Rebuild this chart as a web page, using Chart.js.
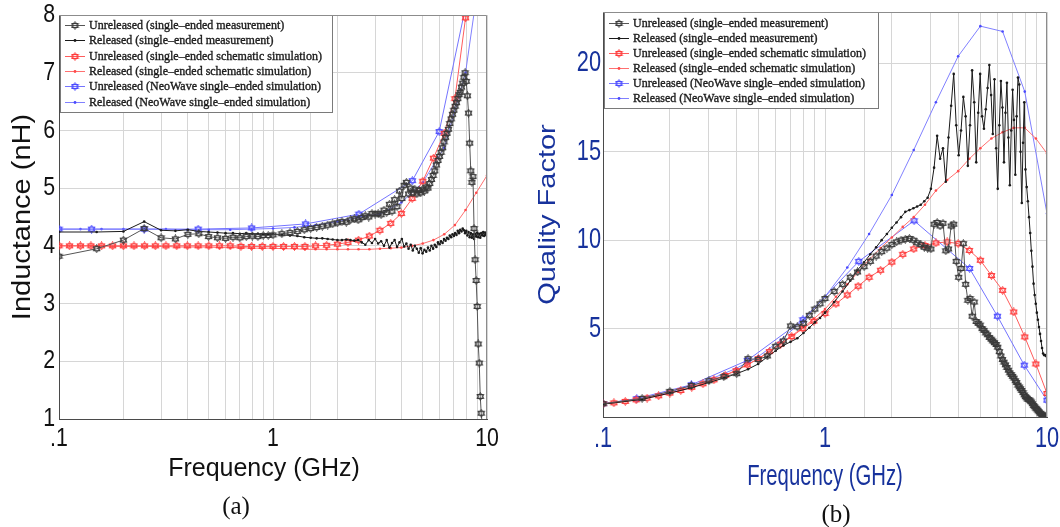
<!DOCTYPE html>
<html>
<head>
<meta charset="utf-8">
<script src="https://cdn.jsdelivr.net/npm/chart.js@4.4.0/dist/chart.umd.min.js"></script>
<style>
  html, body { margin: 0; background: #fff; }
  #wrap { position: relative; width: 1060px; height: 527px; overflow: hidden; }
  #indChart { position: absolute; left: 0; top: 0; }
  #qChart { position: absolute; left: 510px; top: 0; }
  .cap { position: absolute; font: 25px 'Liberation Serif', serif; color: #111; transform: translate(-50%, -50%); }
</style>
</head>
<body>
<div id="wrap">
  <canvas id="indChart" width="500" height="527"></canvas>
  <canvas id="qChart" width="550" height="527"></canvas>
  <div class="cap" style="left:236px; top:506px;">(a)</div>
  <div class="cap" style="left:836px; top:514px;">(b)</div>
</div>
<script>
// ---- data ----
const seriesLabels = [
  'Unreleased (single\u2013ended measurement)',
  'Released (single\u2013ended measurement)',
  'Unreleased (single\u2013ended schematic simulation)',
  'Released (single\u2013ended schematic simulation)',
  'Unreleased (NeoWave single\u2013ended simulation)',
  'Released (NeoWave single\u2013ended simulation)'
];

const freqTickValues = [0.1, 1, 10];
const freqTickLabels = ['.1', '1', '10'];

// measured sweep (GHz)
const measFreq = [
  0.1, 0.15, 0.2, 0.25, 0.3, 0.35, 0.4, 0.45, 0.5, 0.55, 0.6, 0.65, 0.7, 0.75, 0.8, 0.85, 0.9, 0.95, 1.0,
  1.1, 1.2, 1.3, 1.4, 1.5, 1.6, 1.7, 1.8, 1.9, 2.0,
  2.1, 2.2, 2.3, 2.4, 2.5, 2.6, 2.7, 2.8, 2.9, 3.0,
  3.1, 3.2, 3.3, 3.4, 3.5, 3.6, 3.7, 3.8, 3.9, 4.0,
  4.1, 4.2, 4.3, 4.4, 4.5, 4.6, 4.7, 4.8, 4.9, 5.0,
  5.1, 5.2, 5.3, 5.4, 5.5, 5.6, 5.7, 5.8, 5.9, 6.0,
  6.1, 6.2, 6.3, 6.4, 6.5, 6.6, 6.7, 6.8, 6.9, 7.0,
  7.1, 7.2, 7.3, 7.4, 7.5, 7.6, 7.7, 7.8, 7.9, 8.0,
  8.1, 8.2, 8.3, 8.4, 8.5, 8.6, 8.7, 8.8, 8.9, 9.0,
  9.1, 9.2, 9.3, 9.4, 9.5, 9.6, 9.7, 9.8, 9.9, 10.0
];
// simulation sweeps (GHz)
const sweep20 = [
  0.1, 0.112, 0.126, 0.141, 0.158, 0.178, 0.2, 0.224, 0.251, 0.282,
  0.316, 0.355, 0.398, 0.447, 0.501, 0.562, 0.631, 0.708, 0.794, 0.891,
  1.0, 1.12, 1.26, 1.41, 1.58, 1.78, 2.0, 2.24, 2.51, 2.82,
  3.16, 3.55, 3.98, 4.47, 5.01, 5.62, 6.31, 7.08, 7.94, 8.91, 10
];
const sweep10 = [
  0.1, 0.126, 0.158, 0.2, 0.251, 0.316, 0.398, 0.501, 0.631, 0.794,
  1.0, 1.26, 1.58, 2.0, 2.51, 3.16, 3.98, 5.01, 6.31, 7.94, 10
];
const neoFreq = [0.1, 0.142, 0.25, 0.447, 0.795, 1.42, 2.52, 4.48, 5.98, 7.9, 10];

// inductance (nH)
const indUnrelMeas = [
  3.82, 3.95, 4.10, 4.30, 4.14, 4.12, 4.20, 4.21, 4.16, 4.14, 4.13, 4.15, 4.14, 4.16, 4.17, 4.16, 4.18, 4.18, 4.19,
  4.21, 4.23, 4.25, 4.28, 4.30, 4.32, 4.34, 4.36, 4.38, 4.40,
  4.42, 4.41, 4.45, 4.47, 4.45, 4.49, 4.52, 4.50, 4.56, 4.55,
  4.56, 4.54, 4.62, 4.58, 4.72, 4.60, 4.80, 4.68, 4.95, 4.82,
  5.05, 5.10, 4.90, 5.00, 4.92, 4.98, 4.90, 4.96, 4.92, 4.98,
  4.95, 5.02, 5.00, 5.08, 5.15, 5.22, 5.30, 5.40, 5.48, 5.55,
  5.62, 5.70, 5.80, 5.88, 5.95, 6.02, 6.12, 6.20, 6.28, 6.35,
  6.42, 6.48, 6.55, 6.62, 6.66, 6.75, 6.82, 6.92, 7.00, 6.85,
  6.60, 6.30, 5.78, 5.30, 5.10, 5.20, 4.30, 3.76, 3.40, 2.95,
  2.30, 1.97, 1.39, 1.10, 0.90, 0.80, 0.70, 0.60, 0.50, 0.40
];
const indRelMeas = [
  4.24, 4.24, 4.25, 4.42, 4.27, 4.26, 4.28, 4.25, 4.24, 4.23, 4.22, 4.22, 4.21, 4.22, 4.21, 4.21, 4.20, 4.20, 4.20,
  4.19, 4.18, 4.17, 4.15, 4.14, 4.13, 4.13, 4.12, 4.11, 4.10,
  4.10, 4.11, 4.10, 4.09, 4.10, 4.06, 4.02, 4.10, 4.05, 4.12,
  4.04, 4.08, 4.00, 4.10, 3.97, 4.05, 4.10, 3.98, 4.06, 4.12,
  3.99, 4.04, 3.95, 4.02, 3.92, 4.00, 3.95, 3.88, 3.96, 3.87,
  3.93, 3.90, 3.97, 3.92, 4.00, 3.95, 4.02, 3.98, 4.06, 4.03,
  4.08, 4.05, 4.12, 4.09, 4.14, 4.12, 4.18, 4.15, 4.20, 4.17,
  4.22, 4.19, 4.26, 4.22, 4.28, 4.25, 4.30, 4.27, 4.22, 4.26,
  4.18, 4.24, 4.15, 4.22, 4.14, 4.20, 4.12, 4.21, 4.16, 4.23,
  4.15, 4.21, 4.14, 4.22, 4.18, 4.24, 4.17, 4.23, 4.19, 4.21
];
const indUnrelSchem = [
  4.00, 4.00, 4.00, 4.00, 4.00, 4.00, 4.00, 4.00, 4.00, 4.00,
  4.00, 4.00, 4.00, 4.00, 4.00, 4.00, 4.00, 3.99, 3.99, 3.99,
  3.99, 3.99, 3.99, 3.99, 4.00, 4.01, 4.03, 4.06, 4.10, 4.17,
  4.27, 4.39, 4.56, 4.82, 5.12, 5.52, 5.95, 6.55, 7.95, 11.5, 20
];
const indRelSchem = [
  4.00, 4.00, 4.00, 4.00, 4.00, 3.99, 3.99, 3.99, 3.99, 3.99,
  3.99, 3.98, 3.98, 3.98, 3.98, 3.97, 3.97, 3.97, 3.96, 3.96,
  3.96, 3.95, 3.95, 3.94, 3.94, 3.94, 3.94, 3.94, 3.94, 3.94,
  3.95, 3.96, 3.97, 4.00, 4.04, 4.10, 4.20, 4.36, 4.62, 4.92, 5.22
];
const indUnrelNeo = [4.29, 4.29, 4.29, 4.29, 4.31, 4.38, 4.55, 5.13, 5.98, 8.1, 20];
const indRelNeo = [
  4.29, 4.29, 4.29, 4.29, 4.29, 4.29, 4.28, 4.28, 4.28, 4.29,
  4.30, 4.32, 4.36, 4.42, 4.50, 4.55, 4.75, 5.10, 5.70, 7.00, 9.60
];

// quality factor
const qUnrelMeas = [
  0.75, 1.05, 1.45, 1.78, 2.05, 2.28, 2.45, 3.30, 3.25, 3.45, 4.00, 4.30, 5.15, 5.10, 5.30, 5.75, 6.10, 6.40, 6.70,
  7.10, 7.50, 7.90, 8.20, 8.50, 8.80, 9.10, 9.35, 9.55, 9.75,
  9.90, 10.00, 10.05, 10.10, 10.00, 9.85, 9.75, 9.60, 9.55, 9.50,
  10.90, 11.00, 10.80, 10.95, 9.40, 9.50, 10.80, 10.90, 8.80, 7.90,
  8.40, 9.80, 7.50, 6.60, 6.70, 5.70, 6.50, 5.40, 5.30, 5.20,
  5.00, 4.90, 4.75, 4.65, 4.50, 4.40, 4.30, 4.20, 4.10, 3.95,
  3.70, 3.45, 3.25, 3.10, 2.95, 2.80, 2.65, 2.50, 2.40, 2.30,
  2.20, 2.05, 1.95, 1.80, 1.70, 1.60, 1.50, 1.38, 1.25, 1.15,
  1.08, 1.00, 0.98, 0.92, 0.85, 0.75, 0.65, 0.58, 0.50, 0.45,
  0.38, 0.30, 0.22, 0.18, 0.12, 0.08, 0.05, 0.03, 0.01, 0.00
];
const qRelMeas = [
  0.72, 1.00, 1.35, 1.65, 1.95, 2.20, 2.45, 2.70, 3.00, 3.40, 3.75, 4.05, 4.25, 4.45, 4.75, 5.05, 5.35, 5.60, 5.90,
  6.50, 7.10, 7.70, 8.30, 8.75, 9.20, 9.60, 10.00, 10.35, 10.70,
  11.00, 11.30, 11.60, 11.70, 11.80, 11.90, 12.00, 12.20, 12.40, 12.90,
  14.10, 15.90, 14.60, 15.20, 13.30, 15.80, 17.60, 19.40, 16.50, 14.80,
  16.20, 18.10, 17.00, 14.20, 16.50, 19.60, 17.80, 14.40, 17.20, 19.40,
  17.00, 16.30, 17.40, 18.60, 19.90, 18.20, 16.00, 19.10, 15.20, 12.90,
  16.50, 19.00, 17.50, 14.40, 17.20, 18.90, 15.80, 13.10, 16.20, 18.50,
  16.80, 13.70, 17.00, 19.20, 18.80, 15.00, 12.10, 15.50, 17.80, 14.00,
  13.00, 12.20, 11.30, 10.40, 9.40, 8.50, 7.54, 6.90, 6.40, 5.90,
  5.50, 5.09, 4.70, 4.30, 3.90, 3.59, 3.50, 3.50, 3.45, 3.40
];
const qUnrelSchem = [
  0.75, 0.80, 0.88, 0.97, 1.07, 1.20, 1.35, 1.50, 1.68, 1.88,
  2.10, 2.35, 2.62, 2.95, 3.30, 3.70, 4.12, 4.55, 5.00, 5.42,
  5.85, 6.40, 6.90, 7.40, 7.90, 8.30, 8.76, 9.20, 9.50, 9.70,
  9.84, 9.90, 9.80, 9.42, 8.86, 8.00, 7.16, 5.94, 4.53, 3.00, 1.33
];
const qRelSchem = [
  0.75, 0.82, 0.90, 0.99, 1.10, 1.22, 1.36, 1.52, 1.70, 1.90,
  2.12, 2.37, 2.65, 2.96, 3.30, 3.70, 4.15, 4.60, 5.05, 5.55,
  6.10, 6.80, 7.50, 8.20, 8.90, 9.55, 10.15, 10.75, 11.30, 12.00,
  12.80, 13.40, 13.90, 14.60, 15.20, 15.75, 16.10, 16.35, 16.35, 15.75, 14.90
];
const qUnrelNeo = [0.75, 1.04, 1.82, 3.20, 5.50, 8.80, 11.10, 8.40, 5.70, 2.93, 0.95];
const qRelNeo = [
  0.75, 0.92, 1.12, 1.40, 1.78, 2.22, 2.75, 3.42, 4.35, 5.45,
  6.80, 8.45, 10.35, 12.55, 15.10, 17.80, 20.40, 22.10, 21.80, 18.40, 11.50
];

// ---- marker helpers ----
function hexagram(color) {
  const c = document.createElement('canvas');
  c.width = c.height = 9;
  const g = c.getContext('2d');
  const r = 4, cx = 4.5, cy = 4.5;
  g.strokeStyle = color;
  g.lineWidth = 1;
  for (const rot of [-Math.PI / 2, Math.PI / 2]) {
    g.beginPath();
    for (let i = 0; i < 3; i++) {
      const a = rot + i * 2 * Math.PI / 3;
      const px = cx + r * Math.cos(a), py = cy + r * Math.sin(a);
      if (i) g.lineTo(px, py); else g.moveTo(px, py);
    }
    g.closePath();
    g.stroke();
  }
  return c;
}

const styles = [
  { borderColor: '#555555', pointStyle: hexagram('#3a3a3a'), pointRadius: 4 },
  { borderColor: '#1a1a1a', pointStyle: 'circle', pointRadius: 1.3, pointBackgroundColor: '#1a1a1a', pointBorderWidth: 0 },
  { borderColor: '#ff5c5c', pointStyle: hexagram('#ff3a3a'), pointRadius: 4 },
  { borderColor: '#ff7070', pointStyle: 'circle', pointRadius: 1.3, pointBackgroundColor: '#ff4a4a', pointBorderWidth: 0 },
  { borderColor: '#7474ff', pointStyle: hexagram('#4a4aff'), pointRadius: 4 },
  { borderColor: '#8080ff', pointStyle: 'circle', pointRadius: 1.3, pointBackgroundColor: '#4a4aff', pointBorderWidth: 0 }
];

function series(i, xs, ys) {
  return Object.assign({
    label: seriesLabels[i],
    data: xs.map((x, k) => ({ x: x, y: ys[k] })),
    borderWidth: 1,
    tension: 0,
    pointHoverRadius: 0
  }, styles[i]);
}

// ---- plugins ----
// frame on top/right and boxed legend inside the plot
const frameLegend = {
  id: 'frameLegend',
  afterDatasetsDraw(chart, args, o) {
    const { ctx, chartArea: a } = chart;
    const x0 = Math.round(a.left + o.dx), y0 = Math.round(a.top + o.dy);
    ctx.save();
    ctx.fillStyle = '#fff';
    ctx.fillRect(x0, y0, o.w, o.h);
    ctx.strokeStyle = '#7a7a7a';
    ctx.lineWidth = 1;
    ctx.strokeRect(x0 + 0.5, y0 + 0.5, o.w, o.h);
    ctx.font = o.font;
    ctx.textBaseline = 'middle';
    chart.data.datasets.forEach((ds, i) => {
      const y = Math.round(y0 + o.first + i * o.step);
      ctx.strokeStyle = ds.borderColor;
      ctx.lineWidth = 1;
      ctx.beginPath();
      ctx.moveTo(x0 + 5, y + 0.5);
      ctx.lineTo(x0 + 25, y + 0.5);
      ctx.stroke();
      if (typeof ds.pointStyle === 'object') {
        ctx.drawImage(ds.pointStyle, x0 + 15 - 4.5, y + 0.5 - 4.5);
      } else {
        ctx.fillStyle = ds.pointBackgroundColor;
        ctx.beginPath();
        ctx.arc(x0 + 15, y + 0.5, 1.4, 0, Math.PI * 2);
        ctx.fill();
      }
      ctx.fillStyle = '#1a1a1a';
      ctx.strokeStyle = '#1a1a1a';
      ctx.lineWidth = 0.35;
      ctx.fillText(ds.label, x0 + 29, y + 1);
      ctx.strokeText(ds.label, x0 + 29, y + 1);
    });
    ctx.restore();
  },
  afterDraw(chart) {
    const { ctx, chartArea: a } = chart;
    ctx.save();
    ctx.strokeStyle = '#8c8c8c';
    ctx.lineWidth = 1;
    ctx.beginPath();
    ctx.moveTo(a.left, a.top + 0.5);
    ctx.lineTo(a.right - 0.5, a.top + 0.5);
    ctx.lineTo(a.right - 0.5, a.bottom);
    ctx.stroke();
    ctx.restore();
  }
};

// axis text in these figures is horizontally condensed; squeeze fillText while a scale draws it
function squeezed(ctx, kx, ky, dx, draw) {
  const fill = ctx.fillText;
  ctx.fillText = function (t, x, y, mw) {
    this.save();
    this.translate(x + dx, y);
    this.scale(kx, ky);
    if (mw === undefined) fill.call(this, t, 0, 0); else fill.call(this, t, 0, 0, mw);
    this.restore();
  };
  try { draw(); } finally { delete ctx.fillText; }
}

const textSqueeze = {
  id: 'textSqueeze',
  beforeDraw(chart, args, o) {
    for (const id of ['x', 'y']) {
      const s = chart.scales[id], c = o[id];
      if (!s || !c || s._squeezed) continue;
      s._squeezed = true;
      const drawLabels = s.drawLabels, drawTitle = s.drawTitle;
      const vertical = id === 'y';
      s.drawLabels = function (area) {
        squeezed(this.ctx, c.ticks, 1, 0, () => drawLabels.call(this, area));
      };
      s.drawTitle = function () {
        // rotated y title: condense across the text, not along it
        const kx = vertical ? 1 : c.title, ky = vertical ? c.title : 1;
        squeezed(this.ctx, kx, ky, c.titleDx || 0, () => drawTitle.call(this));
      };
    }
  }
};

function freqLabel(v) {
  const k = freqTickValues.findIndex(t => Math.abs(t - v) < 1e-9);
  return k >= 0 ? freqTickLabels[k] : '';
}

function buildChart(id, datasets, cfg) {
  return new Chart(document.getElementById(id), {
    type: 'line',
    data: { datasets: datasets },
    plugins: [textSqueeze, frameLegend],
    options: {
      responsive: false,
      animation: false,
      layout: { padding: { left: 0, right: cfg.padRight, top: cfg.padTop, bottom: 0 } },
      plugins: {
        legend: { display: false },
        tooltip: { enabled: false },
        frameLegend: cfg.legend,
        textSqueeze: cfg.squeeze
      },
      scales: {
        x: {
          type: 'logarithmic',
          min: 0.1,
          max: 10,
          afterFit: s => { s.height = cfg.xHeight; s.paddingLeft = 0; s.paddingRight = 0; },
          grid: { color: '#d6d6d6', lineWidth: 1, drawTicks: false },
          border: { color: '#4a4a4a', width: 1 },
          ticks: {
            autoSkip: false,
            maxRotation: 0,
            padding: cfg.xTickPad,
            color: cfg.tickColor,
            font: cfg.tickFont,
            callback: v => freqLabel(v)
          },
          title: {
            display: true,
            text: 'Frequency (GHz)',
            color: cfg.titleColor,
            font: cfg.xTitleFont,
            padding: { top: 0, bottom: cfg.xTitlePad }
          }
        },
        y: {
          min: cfg.yMin,
          max: cfg.yMax,
          afterFit: s => { s.width = cfg.yWidth; s.paddingTop = 0; s.paddingBottom = 0; },
          grid: { color: '#d6d6d6', lineWidth: 1, drawTicks: false },
          border: { color: '#4a4a4a', width: 1 },
          ticks: {
            stepSize: cfg.yStep,
            includeBounds: false,
            padding: cfg.yTickPad,
            color: cfg.tickColor,
            font: cfg.tickFont,
            callback: v => (v === 0 ? '' : String(v))
          },
          title: {
            display: true,
            text: cfg.yTitle,
            color: cfg.titleColor,
            font: cfg.yTitleFont,
            padding: { top: cfg.yTitlePad, bottom: 0 }
          }
        }
      }
    }
  });
}

const sans = "'Liberation Sans', Arial, sans-serif";
const legendFont = "12px 'Liberation Serif', 'DejaVu Serif', serif";

buildChart('indChart', [
  series(0, measFreq, indUnrelMeas),
  series(1, measFreq, indRelMeas),
  series(2, sweep20, indUnrelSchem),
  series(3, sweep20, indRelSchem),
  series(4, neoFreq, indUnrelNeo),
  series(5, sweep10, indRelNeo)
], {
  padRight: 13, padTop: 15, xHeight: 108, yWidth: 59,
  yMin: 1, yMax: 8, yStep: 1,
  tickColor: '#111', tickFont: { family: sans, size: 26 },
  xTickPad: 4, yTickPad: 4,
  titleColor: '#111',
  xTitleFont: { family: sans, size: 25 }, xTitlePad: 43,
  yTitle: 'Inductance (nH)',
  yTitleFont: { family: sans, size: 29 }, yTitlePad: 5,
  squeeze: { x: { ticks: 0.82, title: 1, titleDx: -9 }, y: { ticks: 0.82, title: 0.9 } },
  legend: { dx: 1, dy: 0, w: 272, h: 97, first: 10, step: 15.3, font: legendFont }
});

buildChart('qChart', [
  series(0, measFreq, qUnrelMeas),
  series(1, measFreq, qRelMeas),
  series(2, sweep20, qUnrelSchem),
  series(3, sweep20, qRelSchem),
  series(4, neoFreq, qUnrelNeo),
  series(5, sweep10, qRelNeo)
], {
  padRight: 13, padTop: 12, xHeight: 110, yWidth: 93,
  yMin: 0, yMax: 22.9, yStep: 5,
  tickColor: '#17329c', tickFont: { family: sans, size: 29 },
  xTickPad: 5, yTickPad: 2,
  titleColor: '#17329c',
  xTitleFont: { family: sans, size: 29 }, xTitlePad: 33,
  yTitle: 'Quality Factor',
  yTitleFont: { family: sans, size: 29 }, yTitlePad: 21,
  squeeze: { x: { ticks: 0.75, title: 0.7 }, y: { ticks: 0.75, title: 0.8 } },
  legend: { dx: 1, dy: 0, w: 274, h: 96, first: 10.5, step: 15.1, font: legendFont }
});
</script>
</body>
</html>
